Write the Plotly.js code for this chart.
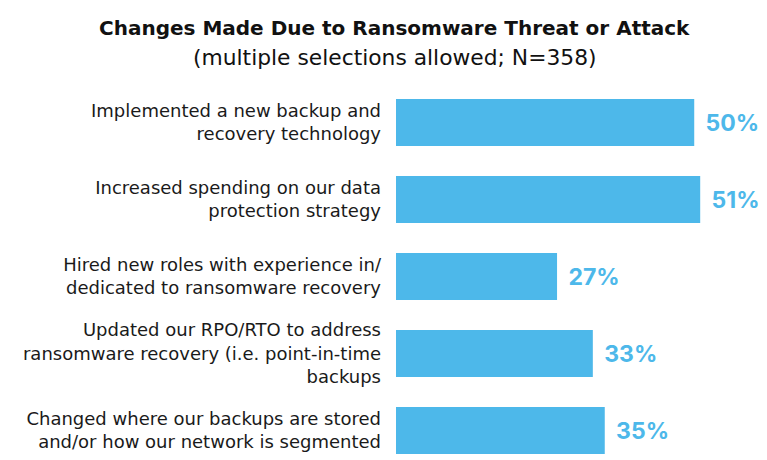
<!DOCTYPE html>
<html>
<head>
<meta charset="utf-8">
<script src="https://cdn.plot.ly/plotly-3.0.1.min.js"></script>
<style>html,body{margin:0;padding:0;background:#fff;}#chart{width:767px;height:460px;}</style>
</head>
<body>
<div id="chart"></div>
<script>
const categories = [
  "Implemented a new backup and<br>recovery technology",
  "Increased spending on our data<br>protection strategy",
  "Hired new roles with experience in/<br>dedicated to ransomware recovery",
  "Updated our RPO/RTO to address<br>ransomware recovery (i.e. point-in-time<br>backups",
  "Changed where our backups are stored<br>and/or how our network is segmented"
];
const values = [50, 51, 27, 33, 35];
const valueLabels = values.map(v => "\u2009\u2009<b>" + v + "%</b>");
const titleText = "Changes Made Due to Ransomware Threat or Attack";
const subtitleText = "(multiple selections allowed; N=358)";

const blue = "#4db8ea";
const labelFont = "'DejaVu Sans', sans-serif";
const pctFont = "Inter, Roboto, sans-serif";

const trace = {
  type: "bar",
  orientation: "h",
  y: categories,
  x: values,
  text: valueLabels,
  textposition: "outside",
  cliponaxis: false,
  textfont: {family: pctFont, size: 23, color: blue},
  marker: {color: blue},
  width: 0.61,
  hoverinfo: "none"
};

const layout = {
  width: 767, height: 460,
  margin: {l: 396, r: 0, t: 84, b: 0},
  paper_bgcolor: "#fff", plot_bgcolor: "#fff",
  showlegend: false,
  xaxis: {range: [0, 62.2], visible: false, fixedrange: true},
  yaxis: {
    type: "category",
    range: [4.383, -0.5],
    showgrid: false, zeroline: false, showline: false,
    ticks: "", ticklabelstandoff: 14,
    tickfont: {family: labelFont, size: 18, color: "#1a1a1a"},
    fixedrange: true
  },
  annotations: [
    {text: "<b>" + titleText + "</b>", xref: "paper", yref: "paper", x: -0.0027, y: 1.149,
     xanchor: "center", yanchor: "middle", showarrow: false,
     font: {family: labelFont, size: 20, color: "#111"}},
    {text: subtitleText, xref: "paper", yref: "paper", x: -0.0027, y: 1.0718,
     xanchor: "center", yanchor: "middle", showarrow: false,
     font: {family: labelFont, size: 21.8, color: "#111"}}
  ]
};

Plotly.newPlot("chart", [trace], layout, {displayModeBar: false, staticPlot: true});
</script>
</body>
</html>
